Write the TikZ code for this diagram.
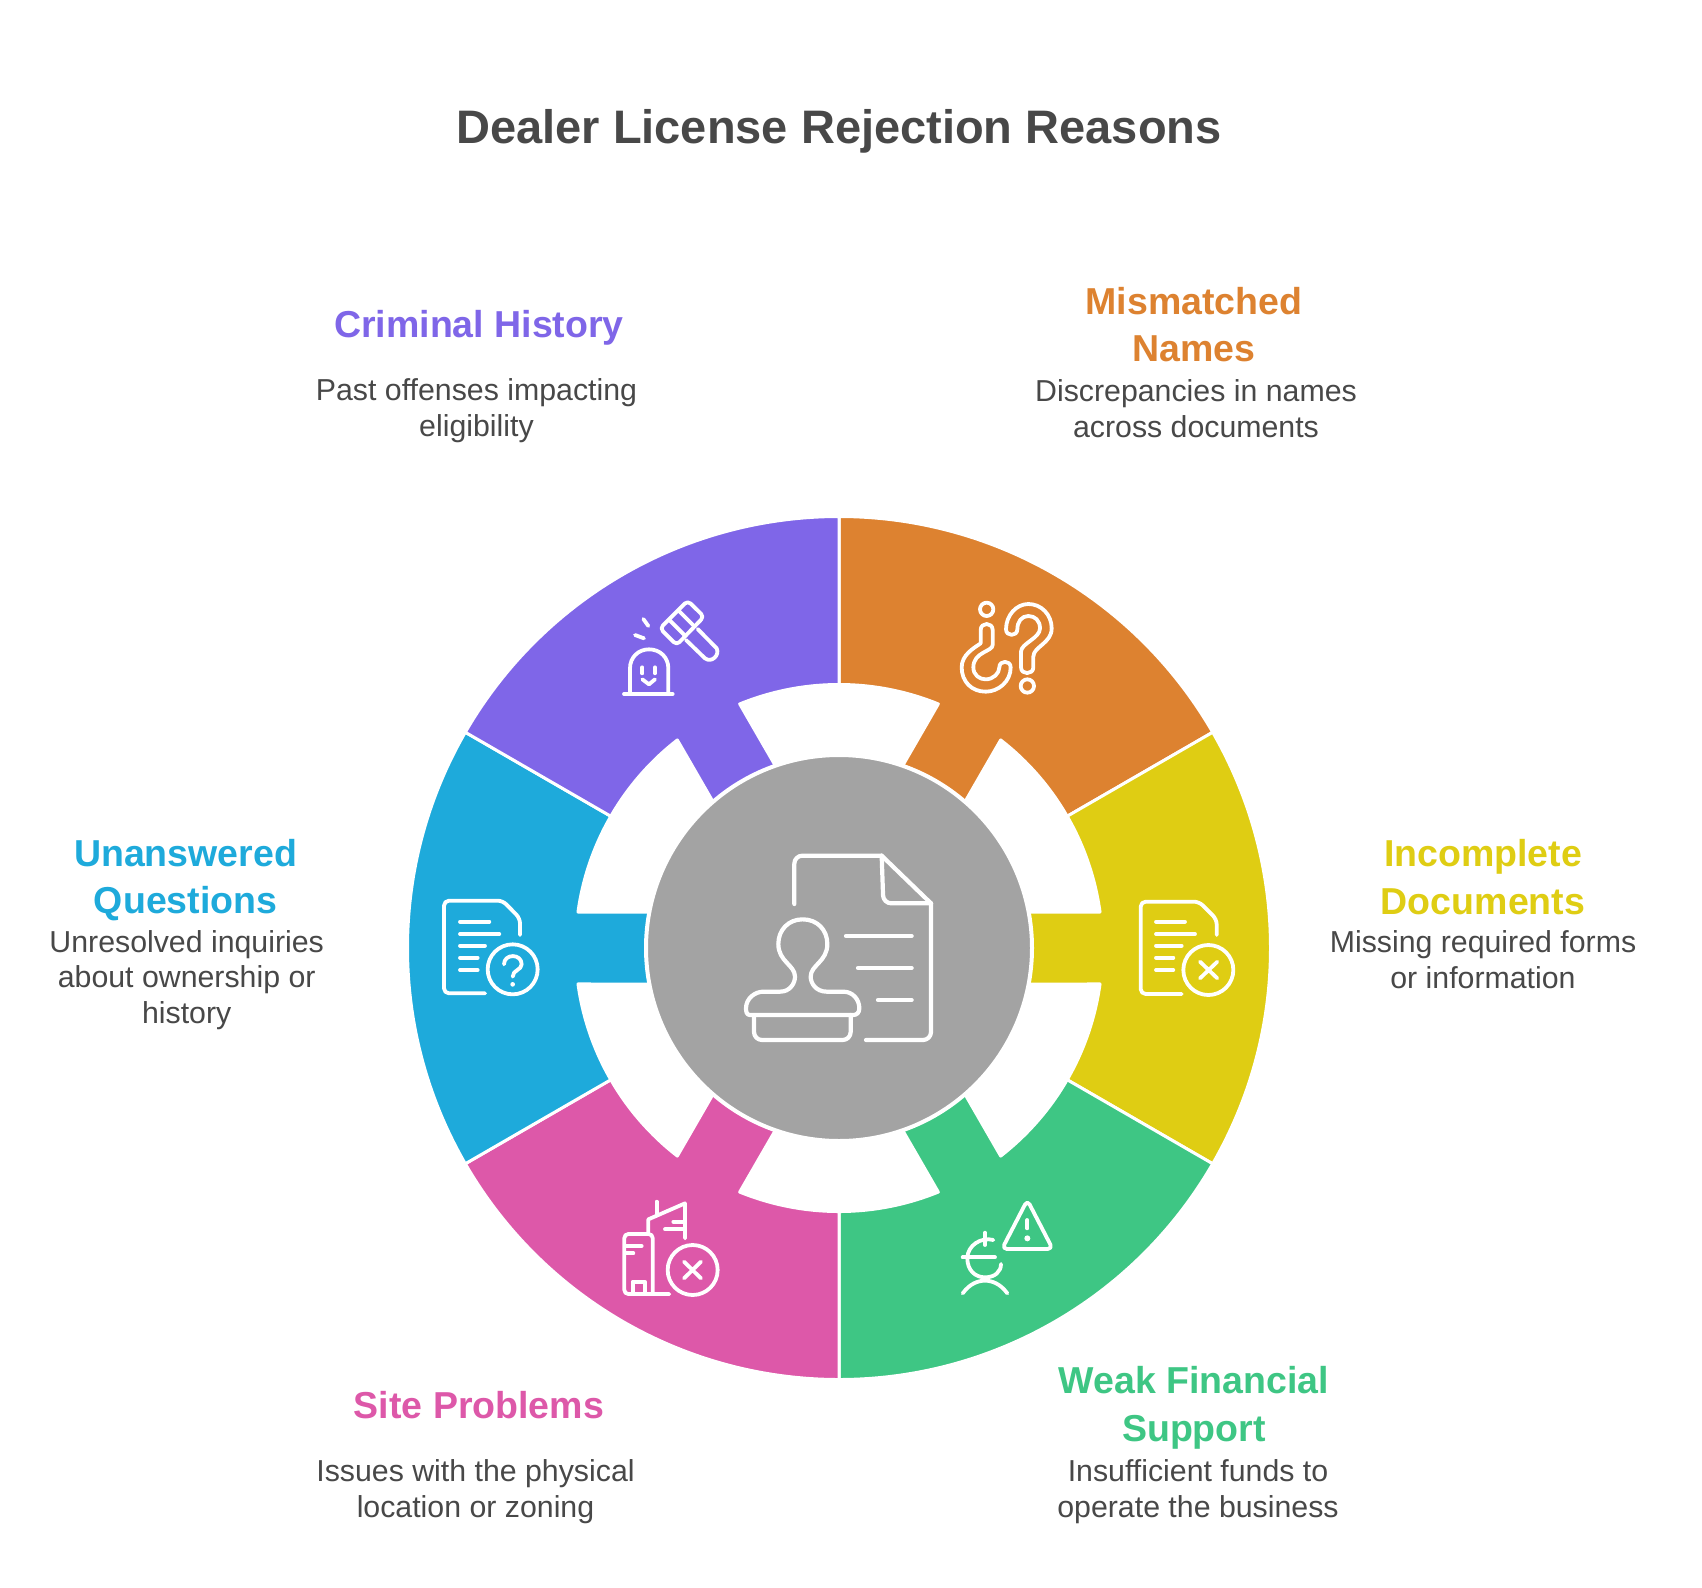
\documentclass[tikz,border=0pt]{standalone}
\usepackage{fontspec}
\setmainfont{Liberation Sans}
\definecolor{cpurple}{HTML}{7F66E8}
\definecolor{corange}{HTML}{DD8230}
\definecolor{cyellow}{HTML}{DFCD13}
\definecolor{cgreen}{HTML}{3EC684}
\definecolor{cpink}{HTML}{DD58A9}
\definecolor{cblue}{HTML}{1EAADB}
\definecolor{cgray}{HTML}{A3A3A3}
\definecolor{ctext}{HTML}{484848}
\tikzset{
  titletext/.style={text=ctext,font=\fontsize{47}{54}\selectfont\bfseries,align=center},
  headtext/.style={font=\fontsize{37.5}{47.8}\selectfont\bfseries,align=center},
  desctext/.style={text=ctext,font=\fontsize{30.3}{35.8}\selectfont,align=center},
  icon/.style={draw=white,line width=3.8pt,line cap=round,line join=round},
  bigicon/.style={draw=white,line width=4.2pt,line cap=round,line join=round},
  sectorshape/.style={draw=white,line width=3pt,line join=round}
}
\newcommand{\sectorpetal}[2]{%
  \begin{scope}[shift={(839,-948)},rotate=#1]
    \path[fill=#2,sectorshape] (-30:431.5) arc[start angle=-30,end angle=30,radius=431.5pt]
      -- (30:263.5) arc[start angle=30,end angle=7.85,radius=263.5pt]
      -- (180,36) -- (180,-36) -- (-7.85:263.5)
      arc[start angle=-7.85,end angle=-30,radius=263.5pt] -- cycle;
  \end{scope}}
\begin{document}
\begin{tikzpicture}[x=1pt,y=1pt]
\useasboundingbox (0,0) rectangle (1702,-1587);
\fill[white] (0,0) rectangle (1702,-1587);
\sectorpetal{60}{corange}
\sectorpetal{0}{cyellow}
\sectorpetal{-60}{cgreen}
\sectorpetal{-120}{cpink}
\sectorpetal{180}{cblue}
\sectorpetal{120}{cpurple}
\node[circle,fill=cgray,draw=white,line width=4pt,minimum size=386pt,inner sep=0pt] (hub) at (839,-948) {};
% texts
\node[titletext] (title) at (839,-131) {Dealer License Rejection Reasons};
\node[headtext,text=cpurple] (h1) at (479,-328) {Criminal History};
\node[desctext] (d1) at (476.5,-411) {Past offenses impacting\\eligibility};
\node[headtext,text=corange] (h2) at (1194,-324.6) {Mismatched\\Names};
\node[desctext] (d2) at (1196,-409) {Discrepancies in names\\across documents};
\node[headtext,text=cyellow] (h3) at (1483,-877) {Incomplete\\Documents};
\node[desctext] (d3) at (1483,-960) {Missing required forms\\or information};
\node[headtext,text=cgreen] (h4) at (1194,-1408) {Weak Financial\\Support};
\node[desctext] (d4) at (1198,-1492) {Insufficient funds to\\operate the business};
\node[headtext,text=cpink] (h5) at (479,-1405) {Site Problems};
\node[desctext] (d5) at (475.5,-1492) {Issues with the physical\\location or zoning};
\node[headtext,text=cblue] (h6) at (185.6,-880) {Unanswered\\Questions};
\node[desctext] (d6) at (186.7,-980) {Unresolved inquiries\\about ownership or\\history};
% central icon
\begin{scope}[shift={(730,-840)},x=1pt/3,y=-1pt/3,bigicon]
  \draw[rounded corners=8pt] (193,192) -- (193,47) -- (455,47);
  \draw (455,47) -- (603,190);
  \draw[rounded corners=8pt] (455,47) -- (460,190) -- (603,190);
  \draw[rounded corners=8pt] (603,190) -- (603,600) -- (408,600);
  \draw (348,288) -- (545,288) (384,384) -- (545,384) (444,480) -- (545,480);
  \draw (60,525) .. controls (50,525) and (48,515) .. (48,505) .. controls (48,475) and (75,455) .. (100,455)
    -- (150,455) .. controls (180,455) and (195,430) .. (195,410) .. controls (195,375) and (145,365) .. (145,312)
    .. controls (145,270) and (175,238) .. (218,238) .. controls (262,238) and (292,270) .. (292,312)
    .. controls (292,365) and (242,375) .. (242,410) .. controls (242,430) and (258,455) .. (290,455)
    -- (340,455) .. controls (368,455) and (388,478) .. (388,505) .. controls (388,518) and (380,525) .. (370,525) -- cycle;
  \draw[rounded corners=8pt] (72,525) -- (72,600) -- (362,600) -- (362,525);
\end{scope}
% criminal
\begin{scope}[shift={(600,-580)},x=1pt/3,y=-1pt/3,icon]
  \draw (72,342) -- (218,342);
  \draw (90,342) -- (90,265) .. controls (90,232) and (115,208) .. (147,208) .. controls (180,208) and (205,232) .. (205,265) -- (205,342);
  \draw (127,262) -- (127,280) (165,262) -- (165,280);
  \draw (127,298) -- (147,313) -- (165,298);
  \draw (130,117) -- (145,138) (105,165) -- (132,175);
  \draw[rounded corners=4pt] (263,62) -- (312,110) -- (230,195) -- (180,145) -- cycle;
  \draw (208,120) -- (255,167) (236,92) -- (284,140);
  \draw (293,147) -- (350,205) .. controls (360,225) and (335,250) .. (315,235) -- (258,180);
\end{scope}
% question
\begin{scope}[shift={(940,-580)},x=1pt/3,y=-1pt/3,icon]
  \draw (140,88) circle[radius=20];
  \draw (122,150) .. controls (122,126) and (158,126) .. (158,150) -- (158,195) .. controls (158,215) and (100,215) .. (100,262)
   .. controls (100,285) and (118,298) .. (137,298) .. controls (160,298) and (178,280) .. (178,262)
   .. controls (178,240) and (212,240) .. (212,262) .. controls (212,305) and (175,335) .. (137,335)
   .. controls (95,335) and (65,305) .. (65,262) .. controls (65,225) and (100,205) .. (122,190) -- cycle;
  \draw (198,148) .. controls (198,105) and (230,72) .. (265,72) .. controls (305,72) and (335,105) .. (335,145)
   .. controls (335,190) and (280,200) .. (280,230) -- (280,262) .. controls (280,285) and (243,285) .. (243,262) -- (243,215)
   .. controls (243,190) and (300,175) .. (300,145) .. controls (300,122) and (285,108) .. (265,108)
   .. controls (245,108) and (232,125) .. (232,148) .. controls (232,170) and (198,170) .. (198,148) -- cycle;
  \draw (262,318) circle[radius=20];
\end{scope}
% yellow doc
\begin{scope}[shift={(1120,-880)},x=1pt/3,y=-1pt/3,icon]
  \draw[rounded corners=5pt] (290,165) -- (290,118) -- (237,65) -- (62,65) -- (62,342) -- (185,342);
  \draw (108,125) -- (195,125) (108,162) -- (225,162) (108,197) -- (185,197) (108,233) -- (160,233) (108,270) -- (160,270);
  \draw (265,270) circle[radius=75];
  \draw (240,245) -- (292,295) (292,245) -- (240,295);
\end{scope}
% green
\begin{scope}[shift={(940,-1190)},x=1pt/3,y=-1pt/3,icon]
  \draw[rounded corners=5pt] (262,30) -- (338,177) -- (186,177) -- cycle;
  \draw (262,90) -- (262,115);
  \fill[white] (262,145) circle[radius=9];
  \draw (160,150) .. controls (125,140) and (82,165) .. (82,205) .. controls (82,240) and (105,262) .. (135,262) .. controls (165,262) and (183,245) .. (183,222);
  \draw (68,202) -- (165,202) (135,128) -- (135,165);
  \draw (68,310) .. controls (90,280) and (115,272) .. (135,272) .. controls (155,272) and (180,280) .. (202,310);
\end{scope}
% pink
\begin{scope}[shift={(610,-1190)},x=1pt/3,y=-1pt/3,icon]
  \draw[rounded corners=4pt] (128,312) -- (128,132) -- (43,132) -- (43,312) -- (178,312);
  \draw (68,312) -- (68,275) -- (105,275) -- (105,312);
  \draw (48,168) -- (95,168) (48,190) -- (70,190);
  \draw (115,132) -- (115,88) -- (225,40) -- (225,145);
  \draw (140,35) -- (140,75);
  \draw (190,95) -- (225,95) (165,118) -- (225,118);
  \draw (248,240) circle[radius=75];
  \draw (222,215) -- (273,265) (273,215) -- (222,265);
\end{scope}
% blue
\begin{scope}[shift={(430,-885)},x=1pt/3,y=-1pt/3,icon]
  \draw[rounded corners=5pt] (270,150) -- (270,100) -- (218,47) -- (42,47) -- (42,325) -- (165,325);
  \draw (90,110) -- (178,110) (90,147) -- (208,147) (90,182) -- (165,182) (90,218) -- (143,218) (90,255) -- (143,255);
  \draw (248,253) circle[radius=75];
  \draw (222,238) .. controls (222,205) and (275,205) .. (275,238) .. controls (275,255) and (248,255) .. (248,275);
  \fill[white] (248,298) circle[radius=7];
\end{scope}
\end{tikzpicture}
\end{document}
